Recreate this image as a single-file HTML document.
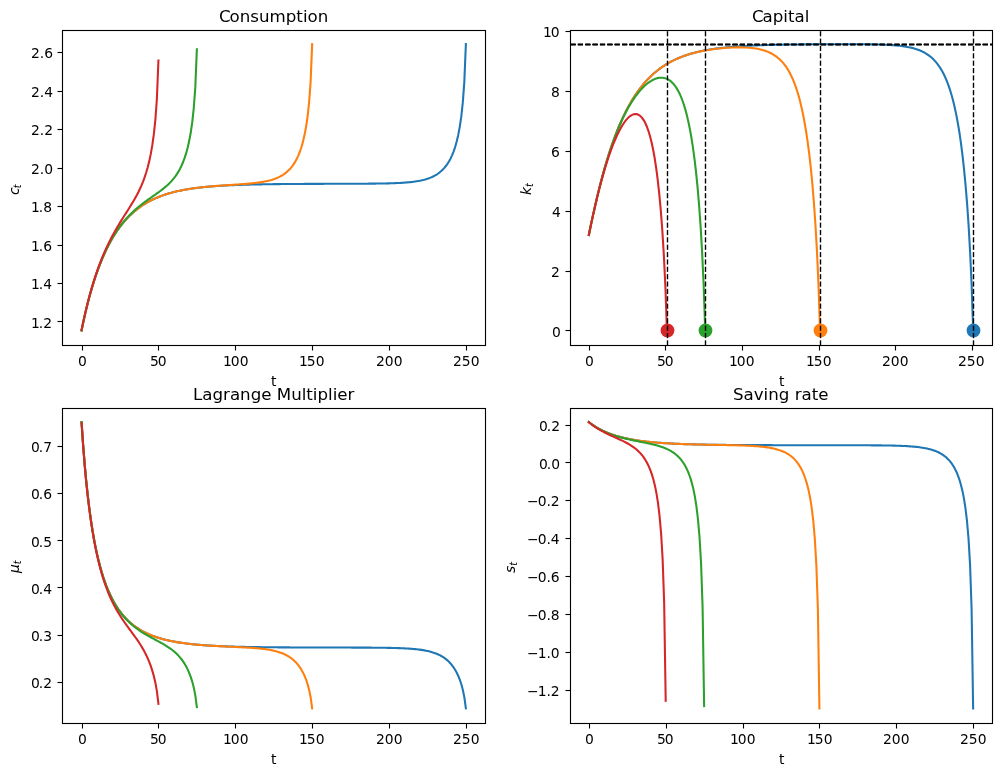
<!DOCTYPE html>
<html lang="en"><head><meta charset="utf-8"><title>Cass-Koopmans paths</title>
<style>html,body{margin:0;padding:0;background:#fff}svg{display:block}</style></head>
<body>
<svg width="1002" height="776" viewBox="0 0 1002 776">
<rect width="1002" height="776" fill="#fff"/>
<clipPath id="c0"><rect x="62.5" y="30.5" width="423.0" height="315.0"/></clipPath>
<g clip-path="url(#c0)" fill="none" stroke-linejoin="round">
<path d="M81.57 330.4 83.11 322.99 84.64 316 86.18 309.41 87.72 303.19 89.26 297.31 90.79 291.76 92.33 286.5 93.87 281.52 95.4 276.8 96.94 272.33 98.48 268.08 100.02 264.06 101.55 260.24 103.09 256.61 104.63 253.16 106.16 249.89 107.7 246.77 109.24 243.81 110.78 241 112.31 238.32 113.85 235.77 115.39 233.34 116.93 231.04 118.46 228.84 120 226.75 121.54 224.76 123.07 222.86 124.61 221.05 126.15 219.33 127.69 217.69 129.22 216.12 130.76 214.63 132.3 213.21 133.83 211.86 135.37 210.57 136.91 209.34 138.45 208.17 139.98 207.05 141.52 205.98 143.06 204.97 144.59 204 146.13 203.07 147.67 202.19 149.21 201.35 150.74 200.54 152.28 199.78 153.82 199.05 155.36 198.35 156.89 197.69 158.43 197.05 159.97 196.45 161.5 195.87 163.04 195.32 164.58 194.79 166.12 194.29 167.65 193.81 169.19 193.35 170.73 192.92 172.26 192.5 173.8 192.11 175.34 191.73 176.88 191.36 178.41 191.02 179.95 190.69 181.49 190.37 183.02 190.07 184.56 189.79 186.1 189.51 187.64 189.25 189.17 189 190.71 188.77 192.25 188.54 193.78 188.32 195.32 188.11 196.86 187.92 198.4 187.73 199.93 187.55 201.47 187.38 203.01 187.21 204.55 187.06 206.08 186.91 207.62 186.76 209.16 186.63 210.69 186.5 212.23 186.37 213.77 186.25 215.31 186.14 216.84 186.03 218.38 185.93 219.92 185.83 221.45 185.74 222.99 185.65 224.53 185.56 226.07 185.48 227.6 185.4 229.14 185.33 230.68 185.25 232.21 185.19 233.75 185.12 235.29 185.06 236.83 185 238.36 184.94 239.9 184.89 241.44 184.84 242.97 184.79 244.51 184.74 246.05 184.7 247.59 184.65 249.12 184.61 250.66 184.57 252.2 184.54 253.74 184.5 255.27 184.47 256.81 184.43 258.35 184.4 259.88 184.37 261.42 184.35 262.96 184.32 264.5 184.29 266.03 184.27 267.57 184.24 269.11 184.22 270.64 184.2 272.18 184.18 273.72 184.16 275.26 184.14 276.79 184.12 278.33 184.11 279.87 184.09 281.4 184.08 282.94 184.06 284.48 184.05 286.02 184.03 287.55 184.02 289.09 184.01 290.63 184 292.16 183.98 293.7 183.97 295.24 183.96 296.78 183.95 298.31 183.94 299.85 183.94 301.39 183.93 302.93 183.92 304.46 183.91 306 183.9 307.54 183.9 309.07 183.89 310.61 183.88 312.15 183.88 313.69 183.87 315.22 183.86 316.76 183.86 318.3 183.85 319.83 183.85 321.37 183.84 322.91 183.84 324.45 183.83 325.98 183.83 327.52 183.82 329.06 183.82 330.59 183.81 332.13 183.81 333.67 183.8 335.21 183.8 336.74 183.8 338.28 183.79 339.82 183.79 341.36 183.78 342.89 183.78 344.43 183.77 345.97 183.77 347.5 183.76 349.04 183.76 350.58 183.75 352.12 183.75 353.65 183.74 355.19 183.74 356.73 183.73 358.26 183.72 359.8 183.71 361.34 183.71 362.88 183.7 364.41 183.69 365.95 183.68 367.49 183.67 369.02 183.65 370.56 183.64 372.1 183.63 373.64 183.61 375.17 183.59 376.71 183.58 378.25 183.56 379.78 183.53 381.32 183.51 382.86 183.48 384.4 183.45 385.93 183.42 387.47 183.38 389.01 183.34 390.55 183.3 392.08 183.25 393.62 183.2 395.16 183.14 396.69 183.08 398.23 183 399.77 182.93 401.31 182.84 402.84 182.75 404.38 182.64 405.92 182.52 407.45 182.4 408.99 182.26 410.53 182.1 412.07 181.93 413.6 181.74 415.14 181.53 416.68 181.29 418.21 181.03 419.75 180.75 421.29 180.43 422.83 180.08 424.36 179.69 425.9 179.26 427.44 178.78 428.97 178.25 430.51 177.65 432.05 176.99 433.59 176.26 435.12 175.44 436.66 174.52 438.2 173.49 439.74 172.33 441.27 171.03 442.81 169.57 444.35 167.91 445.88 166.03 447.42 163.89 448.96 161.44 450.5 158.63 452.03 155.36 453.57 151.55 455.11 147.06 456.64 141.69 458.18 135.17 459.72 127.07 461.26 116.67 462.79 102.63 464.33 81.88 465.87 44.04" stroke="#1f77b4" stroke-width="2.08" stroke-linecap="square"/>
<path d="M81.57 330.4 83.11 322.99 84.64 316 86.18 309.41 87.72 303.19 89.26 297.31 90.79 291.76 92.33 286.5 93.87 281.52 95.4 276.8 96.94 272.33 98.48 268.08 100.02 264.06 101.55 260.24 103.09 256.61 104.63 253.16 106.16 249.89 107.7 246.77 109.24 243.81 110.78 241 112.31 238.32 113.85 235.77 115.39 233.34 116.93 231.04 118.46 228.84 120 226.75 121.54 224.75 123.07 222.86 124.61 221.05 126.15 219.33 127.69 217.69 129.22 216.12 130.76 214.63 132.3 213.21 133.83 211.86 135.37 210.57 136.91 209.34 138.45 208.17 139.98 207.05 141.52 205.98 143.06 204.96 144.59 203.99 146.13 203.07 147.67 202.19 149.21 201.35 150.74 200.54 152.28 199.78 153.82 199.05 155.36 198.35 156.89 197.68 158.43 197.05 159.97 196.44 161.5 195.87 163.04 195.31 164.58 194.79 166.12 194.29 167.65 193.81 169.19 193.35 170.73 192.91 172.26 192.5 173.8 192.1 175.34 191.72 176.88 191.35 178.41 191.01 179.95 190.68 181.49 190.36 183.02 190.06 184.56 189.77 186.1 189.5 187.64 189.23 189.17 188.98 190.71 188.74 192.25 188.51 193.78 188.29 195.32 188.08 196.86 187.88 198.4 187.69 199.93 187.5 201.47 187.33 203.01 187.16 204.55 187 206.08 186.84 207.62 186.69 209.16 186.55 210.69 186.41 212.23 186.28 213.77 186.15 215.31 186.02 216.84 185.9 218.38 185.79 219.92 185.67 221.45 185.56 222.99 185.46 224.53 185.35 226.07 185.25 227.6 185.15 229.14 185.04 230.68 184.94 232.21 184.84 233.75 184.74 235.29 184.64 236.83 184.54 238.36 184.44 239.9 184.33 241.44 184.22 242.97 184.11 244.51 183.99 246.05 183.87 247.59 183.74 249.12 183.61 250.66 183.46 252.2 183.31 253.74 183.15 255.27 182.97 256.81 182.78 258.35 182.58 259.88 182.36 261.42 182.12 262.96 181.86 264.5 181.58 266.03 181.27 267.57 180.93 269.11 180.56 270.64 180.15 272.18 179.7 273.72 179.2 275.26 178.65 276.79 178.04 278.33 177.36 279.87 176.61 281.4 175.77 282.94 174.84 284.48 173.79 286.02 172.63 287.55 171.31 289.09 169.84 290.63 168.17 292.16 166.28 293.7 164.13 295.24 161.67 296.78 158.85 298.31 155.58 299.85 151.76 301.39 147.26 302.93 141.88 304.46 135.35 306 127.24 307.54 116.84 309.07 102.79 310.61 82.04 312.15 44.18" stroke="#ff7f0e" stroke-width="2.08" stroke-linecap="square"/>
<path d="M81.57 330.38 83.11 322.96 84.64 315.97 86.18 309.38 87.72 303.15 89.26 297.27 90.79 291.71 92.33 286.45 93.87 281.46 95.4 276.74 96.94 272.26 98.48 268.01 100.02 263.98 101.55 260.15 103.09 256.51 104.63 253.05 106.16 249.76 107.7 246.63 109.24 243.66 110.78 240.82 112.31 238.12 113.85 235.55 115.39 233.1 116.93 230.77 118.46 228.54 120 226.41 121.54 224.38 123.07 222.44 124.61 220.59 126.15 218.81 127.69 217.11 129.22 215.48 130.76 213.92 132.3 212.42 133.83 210.98 135.37 209.59 136.91 208.25 138.45 206.96 139.98 205.71 141.52 204.5 143.06 203.31 144.59 202.16 146.13 201.04 147.67 199.93 149.21 198.84 150.74 197.76 152.28 196.69 153.82 195.62 155.36 194.55 156.89 193.46 158.43 192.36 159.97 191.23 161.5 190.08 163.04 188.88 164.58 187.63 166.12 186.32 167.65 184.94 169.19 183.47 170.73 181.89 172.26 180.2 173.8 178.35 175.34 176.34 176.88 174.11 178.41 171.65 179.95 168.89 181.49 165.78 183.02 162.25 184.56 158.18 186.1 153.44 187.64 147.84 189.17 141.1 190.71 132.8 192.25 122.22 193.78 108.02 195.32 87.13 196.86 49.21" stroke="#2ca02c" stroke-width="2.08" stroke-linecap="square"/>
<path d="M81.57 330.06 83.11 322.62 84.64 315.62 86.18 309 87.72 302.75 89.26 296.83 90.79 291.23 92.33 285.92 93.87 280.88 95.4 276.1 96.94 271.55 98.48 267.22 100.02 263.09 101.55 259.16 103.09 255.41 104.63 251.82 106.16 248.38 107.7 245.09 109.24 241.93 110.78 238.9 112.31 235.97 113.85 233.14 115.39 230.4 116.93 227.75 118.46 225.16 120 222.63 121.54 220.15 123.07 217.7 124.61 215.28 126.15 212.87 127.69 210.46 129.22 208.03 130.76 205.56 132.3 203.04 133.83 200.45 135.37 197.75 136.91 194.93 138.45 191.94 139.98 188.75 141.52 185.31 143.06 181.55 144.59 177.4 146.13 172.75 147.67 167.47 149.21 161.36 150.74 154.15 152.28 145.41 153.82 134.43 155.36 119.87 156.89 98.7 158.43 60.62" stroke="#d62728" stroke-width="2.08" stroke-linecap="square"/>
</g>
<rect x="62.5" y="30.5" width="423.0" height="315.0" fill="none" stroke="#000" stroke-width="1.111" stroke-linejoin="miter"/>
<g fill="#000"><rect x="81.944" y="345.5" width="1.111" height="5"/><rect x="157.944" y="345.5" width="1.111" height="5"/><rect x="234.944" y="345.5" width="1.111" height="5"/><rect x="311.944" y="345.5" width="1.111" height="5"/><rect x="388.944" y="345.5" width="1.111" height="5"/><rect x="465.944" y="345.5" width="1.111" height="5"/><rect x="57.5" y="320.944" width="5" height="1.111"/><rect x="57.5" y="282.944" width="5" height="1.111"/><rect x="57.5" y="244.944" width="5" height="1.111"/><rect x="57.5" y="205.944" width="5" height="1.111"/><rect x="57.5" y="167.944" width="5" height="1.111"/><rect x="57.5" y="128.944" width="5" height="1.111"/><rect x="57.5" y="90.944" width="5" height="1.111"/><rect x="57.5" y="51.944" width="5" height="1.111"/></g>
<clipPath id="c1"><rect x="570.5" y="30.5" width="422.0" height="315.0"/></clipPath>
<g clip-path="url(#c1)" fill="none" stroke-linejoin="round">
<circle cx="973.5" cy="330.5" r="6.211" fill="#1f77b4" stroke="#1f77b4" stroke-width="1.389"/>
<circle cx="820.5" cy="330.5" r="6.211" fill="#ff7f0e" stroke="#ff7f0e" stroke-width="1.389"/>
<circle cx="705.5" cy="330.5" r="6.211" fill="#2ca02c" stroke="#2ca02c" stroke-width="1.389"/>
<circle cx="667.5" cy="330.5" r="6.211" fill="#d62728" stroke="#d62728" stroke-width="1.389"/>
<path d="M588.84 234.95 590.37 227.5 591.9 220.24 593.44 213.2 594.97 206.37 596.5 199.77 598.03 193.38 599.56 187.21 601.09 181.25 602.62 175.51 604.15 169.99 605.68 164.67 607.22 159.55 608.75 154.63 610.28 149.9 611.81 145.36 613.34 141 614.87 136.82 616.4 132.8 617.93 128.95 619.46 125.26 620.99 121.72 622.53 118.33 624.06 115.08 625.59 111.97 627.12 108.99 628.65 106.13 630.18 103.4 631.71 100.78 633.24 98.28 634.77 95.88 636.31 93.59 637.84 91.39 639.37 89.29 640.9 87.29 642.43 85.37 643.96 83.53 645.49 81.77 647.02 80.09 648.55 78.49 650.09 76.95 651.62 75.48 653.15 74.08 654.68 72.74 656.21 71.46 657.74 70.23 659.27 69.06 660.8 67.94 662.33 66.87 663.86 65.85 665.4 64.87 666.93 63.94 668.46 63.04 669.99 62.19 671.52 61.38 673.05 60.6 674.58 59.86 676.11 59.15 677.64 58.47 679.18 57.82 680.71 57.2 682.24 56.61 683.77 56.04 685.3 55.5 686.83 54.99 688.36 54.49 689.89 54.02 691.42 53.58 692.96 53.15 694.49 52.74 696.02 52.34 697.55 51.97 699.08 51.61 700.61 51.27 702.14 50.95 703.67 50.64 705.2 50.34 706.73 50.05 708.27 49.78 709.8 49.52 711.33 49.28 712.86 49.04 714.39 48.82 715.92 48.6 717.45 48.39 718.98 48.2 720.51 48.01 722.05 47.83 723.58 47.66 725.11 47.5 726.64 47.34 728.17 47.19 729.7 47.05 731.23 46.91 732.76 46.79 734.29 46.66 735.82 46.54 737.36 46.43 738.89 46.32 740.42 46.22 741.95 46.12 743.48 46.03 745.01 45.94 746.54 45.85 748.07 45.77 749.6 45.69 751.14 45.62 752.67 45.55 754.2 45.48 755.73 45.41 757.26 45.35 758.79 45.29 760.32 45.24 761.85 45.18 763.38 45.13 764.92 45.08 766.45 45.03 767.98 44.99 769.51 44.95 771.04 44.91 772.57 44.87 774.1 44.83 775.63 44.79 777.16 44.76 778.69 44.73 780.23 44.7 781.76 44.67 783.29 44.64 784.82 44.61 786.35 44.59 787.88 44.56 789.41 44.54 790.94 44.52 792.47 44.5 794.01 44.48 795.54 44.46 797.07 44.44 798.6 44.42 800.13 44.4 801.66 44.39 803.19 44.37 804.72 44.36 806.25 44.34 807.79 44.33 809.32 44.32 810.85 44.31 812.38 44.3 813.91 44.29 815.44 44.28 816.97 44.27 818.5 44.26 820.03 44.25 821.56 44.24 823.1 44.23 824.63 44.23 826.16 44.22 827.69 44.21 829.22 44.21 830.75 44.2 832.28 44.2 833.81 44.2 835.34 44.19 836.88 44.19 838.41 44.19 839.94 44.19 841.47 44.19 843 44.19 844.53 44.19 846.06 44.19 847.59 44.19 849.12 44.19 850.65 44.2 852.19 44.2 853.72 44.21 855.25 44.21 856.78 44.22 858.31 44.23 859.84 44.24 861.37 44.25 862.9 44.26 864.43 44.28 865.97 44.29 867.5 44.31 869.03 44.33 870.56 44.36 872.09 44.38 873.62 44.41 875.15 44.44 876.68 44.48 878.21 44.52 879.75 44.56 881.28 44.61 882.81 44.67 884.34 44.73 885.87 44.79 887.4 44.87 888.93 44.95 890.46 45.04 891.99 45.14 893.52 45.25 895.06 45.37 896.59 45.5 898.12 45.65 899.65 45.81 901.18 45.99 902.71 46.18 904.24 46.4 905.77 46.64 907.3 46.91 908.84 47.2 910.37 47.52 911.9 47.88 913.43 48.27 914.96 48.71 916.49 49.19 918.02 49.72 919.55 50.3 921.08 50.95 922.61 51.66 924.15 52.45 925.68 53.32 927.21 54.28 928.74 55.35 930.27 56.52 931.8 57.83 933.33 59.27 934.86 60.86 936.39 62.62 937.93 64.58 939.46 66.75 940.99 69.16 942.52 71.83 944.05 74.79 945.58 78.09 947.11 81.76 948.64 85.86 950.17 90.43 951.71 95.53 953.24 101.25 954.77 107.66 956.3 114.87 957.83 123 959.36 132.2 960.89 142.64 962.42 154.57 963.95 168.27 965.48 184.12 967.02 202.67 968.55 224.66 970.08 251.32 971.61 284.82 973.14 330.38" stroke="#1f77b4" stroke-width="2.08" stroke-linecap="square"/>
<g fill="#000000" stroke="none"><rect x="570.5" y="43.806" width="5.139" height="1.389"/><rect x="577.861" y="43.806" width="5.139" height="1.389"/><rect x="585.222" y="43.806" width="5.139" height="1.389"/><rect x="592.583" y="43.806" width="5.139" height="1.389"/><rect x="599.944" y="43.806" width="5.139" height="1.389"/><rect x="607.306" y="43.806" width="5.139" height="1.389"/><rect x="614.667" y="43.806" width="5.139" height="1.389"/><rect x="622.028" y="43.806" width="5.139" height="1.389"/><rect x="629.389" y="43.806" width="5.139" height="1.389"/><rect x="636.75" y="43.806" width="5.139" height="1.389"/><rect x="644.111" y="43.806" width="5.139" height="1.389"/><rect x="651.472" y="43.806" width="5.139" height="1.389"/><rect x="658.833" y="43.806" width="5.139" height="1.389"/><rect x="666.194" y="43.806" width="5.139" height="1.389"/><rect x="673.556" y="43.806" width="5.139" height="1.389"/><rect x="680.917" y="43.806" width="5.139" height="1.389"/><rect x="688.278" y="43.806" width="5.139" height="1.389"/><rect x="695.639" y="43.806" width="5.139" height="1.389"/><rect x="703" y="43.806" width="5.139" height="1.389"/><rect x="710.361" y="43.806" width="5.139" height="1.389"/><rect x="717.722" y="43.806" width="5.139" height="1.389"/><rect x="725.083" y="43.806" width="5.139" height="1.389"/><rect x="732.444" y="43.806" width="5.139" height="1.389"/><rect x="739.806" y="43.806" width="5.139" height="1.389"/><rect x="747.167" y="43.806" width="5.139" height="1.389"/><rect x="754.528" y="43.806" width="5.139" height="1.389"/><rect x="761.889" y="43.806" width="5.139" height="1.389"/><rect x="769.25" y="43.806" width="5.139" height="1.389"/><rect x="776.611" y="43.806" width="5.139" height="1.389"/><rect x="783.972" y="43.806" width="5.139" height="1.389"/><rect x="791.333" y="43.806" width="5.139" height="1.389"/><rect x="798.694" y="43.806" width="5.139" height="1.389"/><rect x="806.056" y="43.806" width="5.139" height="1.389"/><rect x="813.417" y="43.806" width="5.139" height="1.389"/><rect x="820.778" y="43.806" width="5.139" height="1.389"/><rect x="828.139" y="43.806" width="5.139" height="1.389"/><rect x="835.5" y="43.806" width="5.139" height="1.389"/><rect x="842.861" y="43.806" width="5.139" height="1.389"/><rect x="850.222" y="43.806" width="5.139" height="1.389"/><rect x="857.583" y="43.806" width="5.139" height="1.389"/><rect x="864.944" y="43.806" width="5.139" height="1.389"/><rect x="872.306" y="43.806" width="5.139" height="1.389"/><rect x="879.667" y="43.806" width="5.139" height="1.389"/><rect x="887.028" y="43.806" width="5.139" height="1.389"/><rect x="894.389" y="43.806" width="5.139" height="1.389"/><rect x="901.75" y="43.806" width="5.139" height="1.389"/><rect x="909.111" y="43.806" width="5.139" height="1.389"/><rect x="916.472" y="43.806" width="5.139" height="1.389"/><rect x="923.833" y="43.806" width="5.139" height="1.389"/><rect x="931.194" y="43.806" width="5.139" height="1.389"/><rect x="938.556" y="43.806" width="5.139" height="1.389"/><rect x="945.917" y="43.806" width="5.139" height="1.389"/><rect x="953.278" y="43.806" width="5.139" height="1.389"/><rect x="960.639" y="43.806" width="5.139" height="1.389"/><rect x="968" y="43.806" width="5.139" height="1.389"/><rect x="975.361" y="43.806" width="5.139" height="1.389"/><rect x="982.722" y="43.806" width="5.139" height="1.389"/><rect x="990.083" y="43.806" width="2.417" height="1.389"/></g>
<g fill="#000000" stroke="none"><rect x="972.806" y="340.361" width="1.389" height="5.139"/><rect x="972.806" y="333" width="1.389" height="5.139"/><rect x="972.806" y="325.639" width="1.389" height="5.139"/><rect x="972.806" y="318.278" width="1.389" height="5.139"/><rect x="972.806" y="310.917" width="1.389" height="5.139"/><rect x="972.806" y="303.556" width="1.389" height="5.139"/><rect x="972.806" y="296.194" width="1.389" height="5.139"/><rect x="972.806" y="288.833" width="1.389" height="5.139"/><rect x="972.806" y="281.472" width="1.389" height="5.139"/><rect x="972.806" y="274.111" width="1.389" height="5.139"/><rect x="972.806" y="266.75" width="1.389" height="5.139"/><rect x="972.806" y="259.389" width="1.389" height="5.139"/><rect x="972.806" y="252.028" width="1.389" height="5.139"/><rect x="972.806" y="244.667" width="1.389" height="5.139"/><rect x="972.806" y="237.306" width="1.389" height="5.139"/><rect x="972.806" y="229.944" width="1.389" height="5.139"/><rect x="972.806" y="222.583" width="1.389" height="5.139"/><rect x="972.806" y="215.222" width="1.389" height="5.139"/><rect x="972.806" y="207.861" width="1.389" height="5.139"/><rect x="972.806" y="200.5" width="1.389" height="5.139"/><rect x="972.806" y="193.139" width="1.389" height="5.139"/><rect x="972.806" y="185.778" width="1.389" height="5.139"/><rect x="972.806" y="178.417" width="1.389" height="5.139"/><rect x="972.806" y="171.056" width="1.389" height="5.139"/><rect x="972.806" y="163.694" width="1.389" height="5.139"/><rect x="972.806" y="156.333" width="1.389" height="5.139"/><rect x="972.806" y="148.972" width="1.389" height="5.139"/><rect x="972.806" y="141.611" width="1.389" height="5.139"/><rect x="972.806" y="134.25" width="1.389" height="5.139"/><rect x="972.806" y="126.889" width="1.389" height="5.139"/><rect x="972.806" y="119.528" width="1.389" height="5.139"/><rect x="972.806" y="112.167" width="1.389" height="5.139"/><rect x="972.806" y="104.806" width="1.389" height="5.139"/><rect x="972.806" y="97.444" width="1.389" height="5.139"/><rect x="972.806" y="90.083" width="1.389" height="5.139"/><rect x="972.806" y="82.722" width="1.389" height="5.139"/><rect x="972.806" y="75.361" width="1.389" height="5.139"/><rect x="972.806" y="68" width="1.389" height="5.139"/><rect x="972.806" y="60.639" width="1.389" height="5.139"/><rect x="972.806" y="53.278" width="1.389" height="5.139"/><rect x="972.806" y="45.917" width="1.389" height="5.139"/><rect x="972.806" y="38.556" width="1.389" height="5.139"/><rect x="972.806" y="31.194" width="1.389" height="5.139"/></g>
<path d="M588.84 234.95 590.37 227.5 591.9 220.24 593.44 213.2 594.97 206.37 596.5 199.77 598.03 193.38 599.56 187.21 601.09 181.25 602.62 175.51 604.15 169.99 605.68 164.67 607.22 159.55 608.75 154.63 610.28 149.9 611.81 145.36 613.34 141 614.87 136.82 616.4 132.8 617.93 128.95 619.46 125.26 620.99 121.72 622.53 118.33 624.06 115.08 625.59 111.97 627.12 108.99 628.65 106.13 630.18 103.4 631.71 100.78 633.24 98.28 634.77 95.88 636.31 93.59 637.84 91.4 639.37 89.3 640.9 87.29 642.43 85.37 643.96 83.53 645.49 81.77 647.02 80.1 648.55 78.49 650.09 76.95 651.62 75.49 653.15 74.08 654.68 72.74 656.21 71.46 657.74 70.23 659.27 69.06 660.8 67.95 662.33 66.88 663.86 65.85 665.4 64.88 666.93 63.95 668.46 63.05 669.99 62.2 671.52 61.39 673.05 60.61 674.58 59.87 676.11 59.16 677.64 58.49 679.18 57.84 680.71 57.22 682.24 56.63 683.77 56.07 685.3 55.54 686.83 55.02 688.36 54.53 689.89 54.07 691.42 53.62 692.96 53.2 694.49 52.8 696.02 52.41 697.55 52.04 699.08 51.69 700.61 51.36 702.14 51.05 703.67 50.74 705.2 50.46 706.73 50.19 708.27 49.93 709.8 49.69 711.33 49.46 712.86 49.24 714.39 49.03 715.92 48.84 717.45 48.66 718.98 48.49 720.51 48.34 722.05 48.19 723.58 48.06 725.11 47.93 726.64 47.82 728.17 47.72 729.7 47.64 731.23 47.56 732.76 47.5 734.29 47.45 735.82 47.41 737.36 47.39 738.89 47.38 740.42 47.39 741.95 47.41 743.48 47.45 745.01 47.51 746.54 47.58 748.07 47.68 749.6 47.8 751.14 47.94 752.67 48.11 754.2 48.31 755.73 48.53 757.26 48.79 758.79 49.09 760.32 49.43 761.85 49.81 763.38 50.23 764.92 50.71 766.45 51.25 767.98 51.85 769.51 52.52 771.04 53.26 772.57 54.09 774.1 55.02 775.63 56.04 777.16 57.18 778.69 58.45 780.23 59.86 781.76 61.42 783.29 63.15 784.82 65.08 786.35 67.22 787.88 69.6 789.41 72.24 790.94 75.18 792.47 78.46 794.01 82.11 795.54 86.18 797.07 90.72 798.6 95.81 800.13 101.5 801.66 107.89 803.19 115.08 804.72 123.19 806.25 132.37 807.79 142.8 809.32 154.71 810.85 168.39 812.38 184.23 813.91 202.75 815.44 224.73 816.97 251.37 818.5 284.85 820.03 330.4" stroke="#ff7f0e" stroke-width="2.08" stroke-linecap="square"/>
<g fill="#000000" stroke="none"><rect x="570.5" y="43.806" width="5.139" height="1.389"/><rect x="577.861" y="43.806" width="5.139" height="1.389"/><rect x="585.222" y="43.806" width="5.139" height="1.389"/><rect x="592.583" y="43.806" width="5.139" height="1.389"/><rect x="599.944" y="43.806" width="5.139" height="1.389"/><rect x="607.306" y="43.806" width="5.139" height="1.389"/><rect x="614.667" y="43.806" width="5.139" height="1.389"/><rect x="622.028" y="43.806" width="5.139" height="1.389"/><rect x="629.389" y="43.806" width="5.139" height="1.389"/><rect x="636.75" y="43.806" width="5.139" height="1.389"/><rect x="644.111" y="43.806" width="5.139" height="1.389"/><rect x="651.472" y="43.806" width="5.139" height="1.389"/><rect x="658.833" y="43.806" width="5.139" height="1.389"/><rect x="666.194" y="43.806" width="5.139" height="1.389"/><rect x="673.556" y="43.806" width="5.139" height="1.389"/><rect x="680.917" y="43.806" width="5.139" height="1.389"/><rect x="688.278" y="43.806" width="5.139" height="1.389"/><rect x="695.639" y="43.806" width="5.139" height="1.389"/><rect x="703" y="43.806" width="5.139" height="1.389"/><rect x="710.361" y="43.806" width="5.139" height="1.389"/><rect x="717.722" y="43.806" width="5.139" height="1.389"/><rect x="725.083" y="43.806" width="5.139" height="1.389"/><rect x="732.444" y="43.806" width="5.139" height="1.389"/><rect x="739.806" y="43.806" width="5.139" height="1.389"/><rect x="747.167" y="43.806" width="5.139" height="1.389"/><rect x="754.528" y="43.806" width="5.139" height="1.389"/><rect x="761.889" y="43.806" width="5.139" height="1.389"/><rect x="769.25" y="43.806" width="5.139" height="1.389"/><rect x="776.611" y="43.806" width="5.139" height="1.389"/><rect x="783.972" y="43.806" width="5.139" height="1.389"/><rect x="791.333" y="43.806" width="5.139" height="1.389"/><rect x="798.694" y="43.806" width="5.139" height="1.389"/><rect x="806.056" y="43.806" width="5.139" height="1.389"/><rect x="813.417" y="43.806" width="5.139" height="1.389"/><rect x="820.778" y="43.806" width="5.139" height="1.389"/><rect x="828.139" y="43.806" width="5.139" height="1.389"/><rect x="835.5" y="43.806" width="5.139" height="1.389"/><rect x="842.861" y="43.806" width="5.139" height="1.389"/><rect x="850.222" y="43.806" width="5.139" height="1.389"/><rect x="857.583" y="43.806" width="5.139" height="1.389"/><rect x="864.944" y="43.806" width="5.139" height="1.389"/><rect x="872.306" y="43.806" width="5.139" height="1.389"/><rect x="879.667" y="43.806" width="5.139" height="1.389"/><rect x="887.028" y="43.806" width="5.139" height="1.389"/><rect x="894.389" y="43.806" width="5.139" height="1.389"/><rect x="901.75" y="43.806" width="5.139" height="1.389"/><rect x="909.111" y="43.806" width="5.139" height="1.389"/><rect x="916.472" y="43.806" width="5.139" height="1.389"/><rect x="923.833" y="43.806" width="5.139" height="1.389"/><rect x="931.194" y="43.806" width="5.139" height="1.389"/><rect x="938.556" y="43.806" width="5.139" height="1.389"/><rect x="945.917" y="43.806" width="5.139" height="1.389"/><rect x="953.278" y="43.806" width="5.139" height="1.389"/><rect x="960.639" y="43.806" width="5.139" height="1.389"/><rect x="968" y="43.806" width="5.139" height="1.389"/><rect x="975.361" y="43.806" width="5.139" height="1.389"/><rect x="982.722" y="43.806" width="5.139" height="1.389"/><rect x="990.083" y="43.806" width="2.417" height="1.389"/></g>
<g fill="#000000" stroke="none"><rect x="819.806" y="340.361" width="1.389" height="5.139"/><rect x="819.806" y="333" width="1.389" height="5.139"/><rect x="819.806" y="325.639" width="1.389" height="5.139"/><rect x="819.806" y="318.278" width="1.389" height="5.139"/><rect x="819.806" y="310.917" width="1.389" height="5.139"/><rect x="819.806" y="303.556" width="1.389" height="5.139"/><rect x="819.806" y="296.194" width="1.389" height="5.139"/><rect x="819.806" y="288.833" width="1.389" height="5.139"/><rect x="819.806" y="281.472" width="1.389" height="5.139"/><rect x="819.806" y="274.111" width="1.389" height="5.139"/><rect x="819.806" y="266.75" width="1.389" height="5.139"/><rect x="819.806" y="259.389" width="1.389" height="5.139"/><rect x="819.806" y="252.028" width="1.389" height="5.139"/><rect x="819.806" y="244.667" width="1.389" height="5.139"/><rect x="819.806" y="237.306" width="1.389" height="5.139"/><rect x="819.806" y="229.944" width="1.389" height="5.139"/><rect x="819.806" y="222.583" width="1.389" height="5.139"/><rect x="819.806" y="215.222" width="1.389" height="5.139"/><rect x="819.806" y="207.861" width="1.389" height="5.139"/><rect x="819.806" y="200.5" width="1.389" height="5.139"/><rect x="819.806" y="193.139" width="1.389" height="5.139"/><rect x="819.806" y="185.778" width="1.389" height="5.139"/><rect x="819.806" y="178.417" width="1.389" height="5.139"/><rect x="819.806" y="171.056" width="1.389" height="5.139"/><rect x="819.806" y="163.694" width="1.389" height="5.139"/><rect x="819.806" y="156.333" width="1.389" height="5.139"/><rect x="819.806" y="148.972" width="1.389" height="5.139"/><rect x="819.806" y="141.611" width="1.389" height="5.139"/><rect x="819.806" y="134.25" width="1.389" height="5.139"/><rect x="819.806" y="126.889" width="1.389" height="5.139"/><rect x="819.806" y="119.528" width="1.389" height="5.139"/><rect x="819.806" y="112.167" width="1.389" height="5.139"/><rect x="819.806" y="104.806" width="1.389" height="5.139"/><rect x="819.806" y="97.444" width="1.389" height="5.139"/><rect x="819.806" y="90.083" width="1.389" height="5.139"/><rect x="819.806" y="82.722" width="1.389" height="5.139"/><rect x="819.806" y="75.361" width="1.389" height="5.139"/><rect x="819.806" y="68" width="1.389" height="5.139"/><rect x="819.806" y="60.639" width="1.389" height="5.139"/><rect x="819.806" y="53.278" width="1.389" height="5.139"/><rect x="819.806" y="45.917" width="1.389" height="5.139"/><rect x="819.806" y="38.556" width="1.389" height="5.139"/><rect x="819.806" y="31.194" width="1.389" height="5.139"/></g>
<path d="M588.84 234.95 590.37 227.5 591.9 220.25 593.44 213.22 594.97 206.4 596.5 199.8 598.03 193.42 599.56 187.26 601.09 181.32 602.62 175.59 604.15 170.08 605.68 164.78 607.22 159.68 608.75 154.79 610.28 150.09 611.81 145.58 613.34 141.25 614.87 137.1 616.4 133.13 617.93 129.33 619.46 125.69 620.99 122.21 622.53 118.89 624.06 115.72 625.59 112.69 627.12 109.8 628.65 107.06 630.18 104.44 631.71 101.96 633.24 99.6 634.77 97.37 636.31 95.26 637.84 93.27 639.37 91.39 640.9 89.64 642.43 88 643.96 86.47 645.49 85.06 647.02 83.77 648.55 82.59 650.09 81.53 651.62 80.59 653.15 79.78 654.68 79.09 656.21 78.53 657.74 78.11 659.27 77.83 660.8 77.7 662.33 77.72 663.86 77.92 665.4 78.3 666.93 78.87 668.46 79.65 669.99 80.66 671.52 81.91 673.05 83.43 674.58 85.25 676.11 87.39 677.64 89.89 679.18 92.79 680.71 96.13 682.24 99.97 683.77 104.36 685.3 109.38 686.83 115.12 688.36 121.67 689.89 129.16 691.42 137.73 692.96 147.55 694.49 158.87 696.02 171.96 697.55 187.22 699.08 205.16 700.61 226.56 702.14 252.61 703.67 285.49 705.2 330.4" stroke="#2ca02c" stroke-width="2.08" stroke-linecap="square"/>
<g fill="#000000" stroke="none"><rect x="570.5" y="43.806" width="5.139" height="1.389"/><rect x="577.861" y="43.806" width="5.139" height="1.389"/><rect x="585.222" y="43.806" width="5.139" height="1.389"/><rect x="592.583" y="43.806" width="5.139" height="1.389"/><rect x="599.944" y="43.806" width="5.139" height="1.389"/><rect x="607.306" y="43.806" width="5.139" height="1.389"/><rect x="614.667" y="43.806" width="5.139" height="1.389"/><rect x="622.028" y="43.806" width="5.139" height="1.389"/><rect x="629.389" y="43.806" width="5.139" height="1.389"/><rect x="636.75" y="43.806" width="5.139" height="1.389"/><rect x="644.111" y="43.806" width="5.139" height="1.389"/><rect x="651.472" y="43.806" width="5.139" height="1.389"/><rect x="658.833" y="43.806" width="5.139" height="1.389"/><rect x="666.194" y="43.806" width="5.139" height="1.389"/><rect x="673.556" y="43.806" width="5.139" height="1.389"/><rect x="680.917" y="43.806" width="5.139" height="1.389"/><rect x="688.278" y="43.806" width="5.139" height="1.389"/><rect x="695.639" y="43.806" width="5.139" height="1.389"/><rect x="703" y="43.806" width="5.139" height="1.389"/><rect x="710.361" y="43.806" width="5.139" height="1.389"/><rect x="717.722" y="43.806" width="5.139" height="1.389"/><rect x="725.083" y="43.806" width="5.139" height="1.389"/><rect x="732.444" y="43.806" width="5.139" height="1.389"/><rect x="739.806" y="43.806" width="5.139" height="1.389"/><rect x="747.167" y="43.806" width="5.139" height="1.389"/><rect x="754.528" y="43.806" width="5.139" height="1.389"/><rect x="761.889" y="43.806" width="5.139" height="1.389"/><rect x="769.25" y="43.806" width="5.139" height="1.389"/><rect x="776.611" y="43.806" width="5.139" height="1.389"/><rect x="783.972" y="43.806" width="5.139" height="1.389"/><rect x="791.333" y="43.806" width="5.139" height="1.389"/><rect x="798.694" y="43.806" width="5.139" height="1.389"/><rect x="806.056" y="43.806" width="5.139" height="1.389"/><rect x="813.417" y="43.806" width="5.139" height="1.389"/><rect x="820.778" y="43.806" width="5.139" height="1.389"/><rect x="828.139" y="43.806" width="5.139" height="1.389"/><rect x="835.5" y="43.806" width="5.139" height="1.389"/><rect x="842.861" y="43.806" width="5.139" height="1.389"/><rect x="850.222" y="43.806" width="5.139" height="1.389"/><rect x="857.583" y="43.806" width="5.139" height="1.389"/><rect x="864.944" y="43.806" width="5.139" height="1.389"/><rect x="872.306" y="43.806" width="5.139" height="1.389"/><rect x="879.667" y="43.806" width="5.139" height="1.389"/><rect x="887.028" y="43.806" width="5.139" height="1.389"/><rect x="894.389" y="43.806" width="5.139" height="1.389"/><rect x="901.75" y="43.806" width="5.139" height="1.389"/><rect x="909.111" y="43.806" width="5.139" height="1.389"/><rect x="916.472" y="43.806" width="5.139" height="1.389"/><rect x="923.833" y="43.806" width="5.139" height="1.389"/><rect x="931.194" y="43.806" width="5.139" height="1.389"/><rect x="938.556" y="43.806" width="5.139" height="1.389"/><rect x="945.917" y="43.806" width="5.139" height="1.389"/><rect x="953.278" y="43.806" width="5.139" height="1.389"/><rect x="960.639" y="43.806" width="5.139" height="1.389"/><rect x="968" y="43.806" width="5.139" height="1.389"/><rect x="975.361" y="43.806" width="5.139" height="1.389"/><rect x="982.722" y="43.806" width="5.139" height="1.389"/><rect x="990.083" y="43.806" width="2.417" height="1.389"/></g>
<g fill="#000000" stroke="none"><rect x="704.806" y="340.361" width="1.389" height="5.139"/><rect x="704.806" y="333" width="1.389" height="5.139"/><rect x="704.806" y="325.639" width="1.389" height="5.139"/><rect x="704.806" y="318.278" width="1.389" height="5.139"/><rect x="704.806" y="310.917" width="1.389" height="5.139"/><rect x="704.806" y="303.556" width="1.389" height="5.139"/><rect x="704.806" y="296.194" width="1.389" height="5.139"/><rect x="704.806" y="288.833" width="1.389" height="5.139"/><rect x="704.806" y="281.472" width="1.389" height="5.139"/><rect x="704.806" y="274.111" width="1.389" height="5.139"/><rect x="704.806" y="266.75" width="1.389" height="5.139"/><rect x="704.806" y="259.389" width="1.389" height="5.139"/><rect x="704.806" y="252.028" width="1.389" height="5.139"/><rect x="704.806" y="244.667" width="1.389" height="5.139"/><rect x="704.806" y="237.306" width="1.389" height="5.139"/><rect x="704.806" y="229.944" width="1.389" height="5.139"/><rect x="704.806" y="222.583" width="1.389" height="5.139"/><rect x="704.806" y="215.222" width="1.389" height="5.139"/><rect x="704.806" y="207.861" width="1.389" height="5.139"/><rect x="704.806" y="200.5" width="1.389" height="5.139"/><rect x="704.806" y="193.139" width="1.389" height="5.139"/><rect x="704.806" y="185.778" width="1.389" height="5.139"/><rect x="704.806" y="178.417" width="1.389" height="5.139"/><rect x="704.806" y="171.056" width="1.389" height="5.139"/><rect x="704.806" y="163.694" width="1.389" height="5.139"/><rect x="704.806" y="156.333" width="1.389" height="5.139"/><rect x="704.806" y="148.972" width="1.389" height="5.139"/><rect x="704.806" y="141.611" width="1.389" height="5.139"/><rect x="704.806" y="134.25" width="1.389" height="5.139"/><rect x="704.806" y="126.889" width="1.389" height="5.139"/><rect x="704.806" y="119.528" width="1.389" height="5.139"/><rect x="704.806" y="112.167" width="1.389" height="5.139"/><rect x="704.806" y="104.806" width="1.389" height="5.139"/><rect x="704.806" y="97.444" width="1.389" height="5.139"/><rect x="704.806" y="90.083" width="1.389" height="5.139"/><rect x="704.806" y="82.722" width="1.389" height="5.139"/><rect x="704.806" y="75.361" width="1.389" height="5.139"/><rect x="704.806" y="68" width="1.389" height="5.139"/><rect x="704.806" y="60.639" width="1.389" height="5.139"/><rect x="704.806" y="53.278" width="1.389" height="5.139"/><rect x="704.806" y="45.917" width="1.389" height="5.139"/><rect x="704.806" y="38.556" width="1.389" height="5.139"/><rect x="704.806" y="31.194" width="1.389" height="5.139"/></g>
<path d="M588.84 234.95 590.37 227.55 591.9 220.36 593.44 213.39 594.97 206.65 596.5 200.14 598.03 193.86 599.56 187.82 601.09 182.02 602.62 176.45 604.15 171.11 605.68 166.01 607.22 161.15 608.75 156.51 610.28 152.1 611.81 147.92 613.34 143.97 614.87 140.24 616.4 136.75 617.93 133.48 619.46 130.44 620.99 127.64 622.53 125.08 624.06 122.75 625.59 120.68 627.12 118.87 628.65 117.32 630.18 116.06 631.71 115.08 633.24 114.42 634.77 114.09 636.31 114.11 637.84 114.5 639.37 115.31 640.9 116.57 642.43 118.31 643.96 120.6 645.49 123.48 647.02 127.02 648.55 131.31 650.09 136.45 651.62 142.55 653.15 149.75 654.68 158.24 656.21 168.23 657.74 180.01 659.27 193.95 660.8 210.59 662.33 230.68 663.86 255.41 665.4 286.92 666.93 330.4" stroke="#d62728" stroke-width="2.08" stroke-linecap="square"/>
<g fill="#000000" stroke="none"><rect x="570.5" y="43.806" width="5.139" height="1.389"/><rect x="577.861" y="43.806" width="5.139" height="1.389"/><rect x="585.222" y="43.806" width="5.139" height="1.389"/><rect x="592.583" y="43.806" width="5.139" height="1.389"/><rect x="599.944" y="43.806" width="5.139" height="1.389"/><rect x="607.306" y="43.806" width="5.139" height="1.389"/><rect x="614.667" y="43.806" width="5.139" height="1.389"/><rect x="622.028" y="43.806" width="5.139" height="1.389"/><rect x="629.389" y="43.806" width="5.139" height="1.389"/><rect x="636.75" y="43.806" width="5.139" height="1.389"/><rect x="644.111" y="43.806" width="5.139" height="1.389"/><rect x="651.472" y="43.806" width="5.139" height="1.389"/><rect x="658.833" y="43.806" width="5.139" height="1.389"/><rect x="666.194" y="43.806" width="5.139" height="1.389"/><rect x="673.556" y="43.806" width="5.139" height="1.389"/><rect x="680.917" y="43.806" width="5.139" height="1.389"/><rect x="688.278" y="43.806" width="5.139" height="1.389"/><rect x="695.639" y="43.806" width="5.139" height="1.389"/><rect x="703" y="43.806" width="5.139" height="1.389"/><rect x="710.361" y="43.806" width="5.139" height="1.389"/><rect x="717.722" y="43.806" width="5.139" height="1.389"/><rect x="725.083" y="43.806" width="5.139" height="1.389"/><rect x="732.444" y="43.806" width="5.139" height="1.389"/><rect x="739.806" y="43.806" width="5.139" height="1.389"/><rect x="747.167" y="43.806" width="5.139" height="1.389"/><rect x="754.528" y="43.806" width="5.139" height="1.389"/><rect x="761.889" y="43.806" width="5.139" height="1.389"/><rect x="769.25" y="43.806" width="5.139" height="1.389"/><rect x="776.611" y="43.806" width="5.139" height="1.389"/><rect x="783.972" y="43.806" width="5.139" height="1.389"/><rect x="791.333" y="43.806" width="5.139" height="1.389"/><rect x="798.694" y="43.806" width="5.139" height="1.389"/><rect x="806.056" y="43.806" width="5.139" height="1.389"/><rect x="813.417" y="43.806" width="5.139" height="1.389"/><rect x="820.778" y="43.806" width="5.139" height="1.389"/><rect x="828.139" y="43.806" width="5.139" height="1.389"/><rect x="835.5" y="43.806" width="5.139" height="1.389"/><rect x="842.861" y="43.806" width="5.139" height="1.389"/><rect x="850.222" y="43.806" width="5.139" height="1.389"/><rect x="857.583" y="43.806" width="5.139" height="1.389"/><rect x="864.944" y="43.806" width="5.139" height="1.389"/><rect x="872.306" y="43.806" width="5.139" height="1.389"/><rect x="879.667" y="43.806" width="5.139" height="1.389"/><rect x="887.028" y="43.806" width="5.139" height="1.389"/><rect x="894.389" y="43.806" width="5.139" height="1.389"/><rect x="901.75" y="43.806" width="5.139" height="1.389"/><rect x="909.111" y="43.806" width="5.139" height="1.389"/><rect x="916.472" y="43.806" width="5.139" height="1.389"/><rect x="923.833" y="43.806" width="5.139" height="1.389"/><rect x="931.194" y="43.806" width="5.139" height="1.389"/><rect x="938.556" y="43.806" width="5.139" height="1.389"/><rect x="945.917" y="43.806" width="5.139" height="1.389"/><rect x="953.278" y="43.806" width="5.139" height="1.389"/><rect x="960.639" y="43.806" width="5.139" height="1.389"/><rect x="968" y="43.806" width="5.139" height="1.389"/><rect x="975.361" y="43.806" width="5.139" height="1.389"/><rect x="982.722" y="43.806" width="5.139" height="1.389"/><rect x="990.083" y="43.806" width="2.417" height="1.389"/></g>
<g fill="#000000" stroke="none"><rect x="666.806" y="340.361" width="1.389" height="5.139"/><rect x="666.806" y="333" width="1.389" height="5.139"/><rect x="666.806" y="325.639" width="1.389" height="5.139"/><rect x="666.806" y="318.278" width="1.389" height="5.139"/><rect x="666.806" y="310.917" width="1.389" height="5.139"/><rect x="666.806" y="303.556" width="1.389" height="5.139"/><rect x="666.806" y="296.194" width="1.389" height="5.139"/><rect x="666.806" y="288.833" width="1.389" height="5.139"/><rect x="666.806" y="281.472" width="1.389" height="5.139"/><rect x="666.806" y="274.111" width="1.389" height="5.139"/><rect x="666.806" y="266.75" width="1.389" height="5.139"/><rect x="666.806" y="259.389" width="1.389" height="5.139"/><rect x="666.806" y="252.028" width="1.389" height="5.139"/><rect x="666.806" y="244.667" width="1.389" height="5.139"/><rect x="666.806" y="237.306" width="1.389" height="5.139"/><rect x="666.806" y="229.944" width="1.389" height="5.139"/><rect x="666.806" y="222.583" width="1.389" height="5.139"/><rect x="666.806" y="215.222" width="1.389" height="5.139"/><rect x="666.806" y="207.861" width="1.389" height="5.139"/><rect x="666.806" y="200.5" width="1.389" height="5.139"/><rect x="666.806" y="193.139" width="1.389" height="5.139"/><rect x="666.806" y="185.778" width="1.389" height="5.139"/><rect x="666.806" y="178.417" width="1.389" height="5.139"/><rect x="666.806" y="171.056" width="1.389" height="5.139"/><rect x="666.806" y="163.694" width="1.389" height="5.139"/><rect x="666.806" y="156.333" width="1.389" height="5.139"/><rect x="666.806" y="148.972" width="1.389" height="5.139"/><rect x="666.806" y="141.611" width="1.389" height="5.139"/><rect x="666.806" y="134.25" width="1.389" height="5.139"/><rect x="666.806" y="126.889" width="1.389" height="5.139"/><rect x="666.806" y="119.528" width="1.389" height="5.139"/><rect x="666.806" y="112.167" width="1.389" height="5.139"/><rect x="666.806" y="104.806" width="1.389" height="5.139"/><rect x="666.806" y="97.444" width="1.389" height="5.139"/><rect x="666.806" y="90.083" width="1.389" height="5.139"/><rect x="666.806" y="82.722" width="1.389" height="5.139"/><rect x="666.806" y="75.361" width="1.389" height="5.139"/><rect x="666.806" y="68" width="1.389" height="5.139"/><rect x="666.806" y="60.639" width="1.389" height="5.139"/><rect x="666.806" y="53.278" width="1.389" height="5.139"/><rect x="666.806" y="45.917" width="1.389" height="5.139"/><rect x="666.806" y="38.556" width="1.389" height="5.139"/><rect x="666.806" y="31.194" width="1.389" height="5.139"/></g>
</g>
<rect x="570.5" y="30.5" width="422.0" height="315.0" fill="none" stroke="#000" stroke-width="1.111" stroke-linejoin="miter"/>
<g fill="#000"><rect x="588.944" y="345.5" width="1.111" height="5"/><rect x="664.944" y="345.5" width="1.111" height="5"/><rect x="741.944" y="345.5" width="1.111" height="5"/><rect x="818.944" y="345.5" width="1.111" height="5"/><rect x="894.944" y="345.5" width="1.111" height="5"/><rect x="971.944" y="345.5" width="1.111" height="5"/><rect x="565.5" y="329.944" width="5" height="1.111"/><rect x="565.5" y="270.944" width="5" height="1.111"/><rect x="565.5" y="210.944" width="5" height="1.111"/><rect x="565.5" y="150.944" width="5" height="1.111"/><rect x="565.5" y="90.944" width="5" height="1.111"/><rect x="565.5" y="30.944" width="5" height="1.111"/></g>
<clipPath id="c2"><rect x="62.5" y="408.5" width="423.0" height="315.0"/></clipPath>
<g clip-path="url(#c2)" fill="none" stroke-linejoin="round">
<path d="M81.57 422.04 83.11 444.56 84.64 463.86 86.18 480.56 87.72 495.12 89.26 507.91 90.79 519.22 92.33 529.27 93.87 538.26 95.4 546.32 96.94 553.6 98.48 560.18 100.02 566.17 101.55 571.62 103.09 576.6 104.63 581.16 106.16 585.36 107.7 589.22 109.24 592.79 110.78 596.08 112.31 599.13 113.85 601.97 115.39 604.6 116.93 607.05 118.46 609.34 120 611.47 121.54 613.47 123.07 615.33 124.61 617.08 126.15 618.71 127.69 620.25 129.22 621.7 130.76 623.05 132.3 624.33 133.83 625.53 135.37 626.67 136.91 627.73 138.45 628.74 139.98 629.69 141.52 630.59 143.06 631.44 144.59 632.24 146.13 633 147.67 633.72 149.21 634.4 150.74 635.05 152.28 635.66 153.82 636.24 155.36 636.79 156.89 637.31 158.43 637.8 159.97 638.27 161.5 638.72 163.04 639.14 164.58 639.54 166.12 639.92 167.65 640.29 169.19 640.63 170.73 640.96 172.26 641.27 173.8 641.57 175.34 641.85 176.88 642.12 178.41 642.37 179.95 642.62 181.49 642.85 183.02 643.07 184.56 643.28 186.1 643.48 187.64 643.67 189.17 643.85 190.71 644.02 192.25 644.19 193.78 644.34 195.32 644.49 196.86 644.64 198.4 644.77 199.93 644.9 201.47 645.03 203.01 645.14 204.55 645.25 206.08 645.36 207.62 645.46 209.16 645.56 210.69 645.65 212.23 645.74 213.77 645.83 215.31 645.91 216.84 645.98 218.38 646.06 219.92 646.13 221.45 646.19 222.99 646.26 224.53 646.32 226.07 646.38 227.6 646.43 229.14 646.48 230.68 646.53 232.21 646.58 233.75 646.63 235.29 646.67 236.83 646.71 238.36 646.75 239.9 646.79 241.44 646.83 242.97 646.86 244.51 646.89 246.05 646.93 247.59 646.96 249.12 646.98 250.66 647.01 252.2 647.04 253.74 647.06 255.27 647.09 256.81 647.11 258.35 647.13 259.88 647.15 261.42 647.17 262.96 647.19 264.5 647.21 266.03 647.23 267.57 647.24 269.11 647.26 270.64 647.27 272.18 647.29 273.72 647.3 275.26 647.31 276.79 647.33 278.33 647.34 279.87 647.35 281.4 647.36 282.94 647.37 284.48 647.38 286.02 647.39 287.55 647.4 289.09 647.41 290.63 647.42 292.16 647.42 293.7 647.43 295.24 647.44 296.78 647.44 298.31 647.45 299.85 647.46 301.39 647.46 302.93 647.47 304.46 647.47 306 647.48 307.54 647.49 309.07 647.49 310.61 647.49 312.15 647.5 313.69 647.5 315.22 647.51 316.76 647.51 318.3 647.52 319.83 647.52 321.37 647.52 322.91 647.53 324.45 647.53 325.98 647.53 327.52 647.54 329.06 647.54 330.59 647.54 332.13 647.55 333.67 647.55 335.21 647.55 336.74 647.55 338.28 647.56 339.82 647.56 341.36 647.56 342.89 647.57 344.43 647.57 345.97 647.57 347.5 647.58 349.04 647.58 350.58 647.58 352.12 647.59 353.65 647.59 355.19 647.6 356.73 647.6 358.26 647.61 359.8 647.61 361.34 647.62 362.88 647.62 364.41 647.63 365.95 647.64 367.49 647.64 369.02 647.65 370.56 647.66 372.1 647.67 373.64 647.68 375.17 647.69 376.71 647.71 378.25 647.72 379.78 647.74 381.32 647.75 382.86 647.77 384.4 647.79 385.93 647.82 387.47 647.84 389.01 647.87 390.55 647.9 392.08 647.93 393.62 647.97 395.16 648.01 396.69 648.05 398.23 648.1 399.77 648.16 401.31 648.22 402.84 648.28 404.38 648.36 405.92 648.44 407.45 648.52 408.99 648.62 410.53 648.73 412.07 648.85 413.6 648.98 415.14 649.12 416.68 649.28 418.21 649.46 419.75 649.65 421.29 649.87 422.83 650.1 424.36 650.37 425.9 650.66 427.44 650.98 428.97 651.33 430.51 651.73 432.05 652.16 433.59 652.65 435.12 653.18 436.66 653.78 438.2 654.44 439.74 655.18 441.27 656 442.81 656.91 444.35 657.94 445.88 659.08 447.42 660.36 448.96 661.81 450.5 663.43 452.03 665.27 453.57 667.37 455.11 669.76 456.64 672.51 458.18 675.72 459.72 679.5 461.26 684.04 462.79 689.69 464.33 697.12 465.87 708.4" stroke="#1f77b4" stroke-width="2.08" stroke-linecap="square"/>
<path d="M81.57 422.04 83.11 444.56 84.64 463.86 86.18 480.56 87.72 495.12 89.26 507.91 90.79 519.22 92.33 529.27 93.87 538.26 95.4 546.32 96.94 553.6 98.48 560.18 100.02 566.17 101.55 571.62 103.09 576.6 104.63 581.16 106.16 585.36 107.7 589.22 109.24 592.79 110.78 596.08 112.31 599.13 113.85 601.97 115.39 604.6 116.93 607.05 118.46 609.34 120 611.47 121.54 613.47 123.07 615.33 124.61 617.08 126.15 618.72 127.69 620.25 129.22 621.7 130.76 623.05 132.3 624.33 133.83 625.53 135.37 626.67 136.91 627.73 138.45 628.74 139.98 629.69 141.52 630.59 143.06 631.44 144.59 632.24 146.13 633 147.67 633.72 149.21 634.4 150.74 635.05 152.28 635.66 153.82 636.24 155.36 636.79 156.89 637.31 158.43 637.8 159.97 638.27 161.5 638.72 163.04 639.14 164.58 639.54 166.12 639.93 167.65 640.29 169.19 640.64 170.73 640.96 172.26 641.28 173.8 641.57 175.34 641.86 176.88 642.13 178.41 642.38 179.95 642.63 181.49 642.86 183.02 643.08 184.56 643.29 186.1 643.49 187.64 643.68 189.17 643.87 190.71 644.04 192.25 644.21 193.78 644.37 195.32 644.52 196.86 644.66 198.4 644.8 199.93 644.93 201.47 645.06 203.01 645.18 204.55 645.3 206.08 645.41 207.62 645.51 209.16 645.62 210.69 645.72 212.23 645.81 213.77 645.9 215.31 645.99 216.84 646.07 218.38 646.16 219.92 646.24 221.45 646.31 222.99 646.39 224.53 646.46 226.07 646.54 227.6 646.61 229.14 646.68 230.68 646.75 232.21 646.82 233.75 646.89 235.29 646.96 236.83 647.03 238.36 647.11 239.9 647.18 241.44 647.26 242.97 647.34 244.51 647.42 246.05 647.5 247.59 647.59 249.12 647.69 250.66 647.79 252.2 647.89 253.74 648.01 255.27 648.13 256.81 648.26 258.35 648.4 259.88 648.55 261.42 648.71 262.96 648.89 264.5 649.08 266.03 649.3 267.57 649.53 269.11 649.78 270.64 650.06 272.18 650.36 273.72 650.7 275.26 651.07 276.79 651.47 278.33 651.92 279.87 652.42 281.4 652.96 282.94 653.57 284.48 654.24 286.02 654.99 287.55 655.82 289.09 656.75 290.63 657.78 292.16 658.93 293.7 660.22 295.24 661.67 296.78 663.31 298.31 665.16 299.85 667.26 301.39 669.66 302.93 672.42 304.46 675.63 306 679.42 307.54 683.97 309.07 689.62 310.61 697.07 312.15 708.37" stroke="#ff7f0e" stroke-width="2.08" stroke-linecap="square"/>
<path d="M81.57 422.13 83.11 444.65 84.64 463.95 86.18 480.64 87.72 495.2 89.26 507.99 90.79 519.3 92.33 529.36 93.87 538.35 95.4 546.42 96.94 553.7 98.48 560.29 100.02 566.28 101.55 571.74 103.09 576.73 104.63 581.31 106.16 585.51 107.7 589.39 109.24 592.97 110.78 596.28 112.31 599.35 113.85 602.21 115.39 604.86 116.93 607.34 118.46 609.65 120 611.81 121.54 613.83 123.07 615.74 124.61 617.52 126.15 619.2 127.69 620.79 129.22 622.28 130.76 623.69 132.3 625.03 133.83 626.31 135.37 627.51 136.91 628.67 138.45 629.77 139.98 630.82 141.52 631.83 143.06 632.8 144.59 633.74 146.13 634.65 147.67 635.54 149.21 636.4 150.74 637.25 152.28 638.08 153.82 638.91 155.36 639.73 156.89 640.55 158.43 641.38 159.97 642.22 161.5 643.07 163.04 643.94 164.58 644.84 166.12 645.78 167.65 646.76 169.19 647.78 170.73 648.87 172.26 650.03 173.8 651.26 175.34 652.6 176.88 654.04 178.41 655.61 179.95 657.33 181.49 659.23 183.02 661.34 184.56 663.69 186.1 666.34 187.64 669.35 189.17 672.81 190.71 676.85 192.25 681.66 193.78 687.58 195.32 695.33 196.86 707.01" stroke="#2ca02c" stroke-width="2.08" stroke-linecap="square"/>
<path d="M81.57 423.14 83.11 445.6 84.64 464.87 86.18 481.55 87.72 496.11 89.26 508.91 90.79 520.25 92.33 530.33 93.87 539.37 95.4 547.49 96.94 554.83 98.48 561.49 100.02 567.56 101.55 573.11 103.09 578.21 104.63 582.9 106.16 587.23 107.7 591.25 109.24 594.99 110.78 598.48 112.31 601.75 113.85 604.82 115.39 607.72 116.93 610.46 118.46 613.07 120 615.55 121.54 617.94 123.07 620.24 124.61 622.47 126.15 624.64 127.69 626.76 129.22 628.86 130.76 630.95 132.3 633.03 133.83 635.13 135.37 637.26 136.91 639.44 138.45 641.69 139.98 644.03 141.52 646.49 143.06 649.1 144.59 651.89 146.13 654.91 147.67 658.21 149.21 661.86 150.74 665.95 152.28 670.62 153.82 676.07 155.36 682.68 156.89 691.17 158.43 703.78" stroke="#d62728" stroke-width="2.08" stroke-linecap="square"/>
</g>
<rect x="62.5" y="408.5" width="423.0" height="315.0" fill="none" stroke="#000" stroke-width="1.111" stroke-linejoin="miter"/>
<g fill="#000"><rect x="81.944" y="723.5" width="1.111" height="5"/><rect x="157.944" y="723.5" width="1.111" height="5"/><rect x="234.944" y="723.5" width="1.111" height="5"/><rect x="311.944" y="723.5" width="1.111" height="5"/><rect x="388.944" y="723.5" width="1.111" height="5"/><rect x="465.944" y="723.5" width="1.111" height="5"/><rect x="57.5" y="681.944" width="5" height="1.111"/><rect x="57.5" y="634.944" width="5" height="1.111"/><rect x="57.5" y="586.944" width="5" height="1.111"/><rect x="57.5" y="539.944" width="5" height="1.111"/><rect x="57.5" y="492.944" width="5" height="1.111"/><rect x="57.5" y="445.944" width="5" height="1.111"/></g>
<clipPath id="c3"><rect x="570.5" y="408.5" width="422.0" height="315.0"/></clipPath>
<g clip-path="url(#c3)" fill="none" stroke-linejoin="round">
<path d="M588.84 422.04 590.38 423.25 591.92 424.38 593.45 425.45 594.99 426.46 596.53 427.41 598.07 428.31 599.6 429.16 601.14 429.96 602.68 430.72 604.21 431.43 605.75 432.11 607.29 432.75 608.83 433.36 610.36 433.94 611.9 434.48 613.44 435 614.97 435.49 616.51 435.96 618.05 436.4 619.59 436.82 621.12 437.22 622.66 437.6 624.2 437.96 625.74 438.31 627.27 438.63 628.81 438.94 630.35 439.24 631.88 439.52 633.42 439.79 634.96 440.04 636.5 440.28 638.03 440.51 639.57 440.73 641.11 440.94 642.64 441.14 644.18 441.33 645.72 441.51 647.26 441.68 648.79 441.85 650.33 442 651.87 442.15 653.4 442.3 654.94 442.43 656.48 442.56 658.02 442.68 659.55 442.8 661.09 442.91 662.63 443.02 664.16 443.12 665.7 443.22 667.24 443.31 668.78 443.4 670.31 443.48 671.85 443.56 673.39 443.64 674.93 443.71 676.46 443.78 678 443.85 679.54 443.91 681.07 443.97 682.61 444.03 684.15 444.09 685.69 444.14 687.22 444.19 688.76 444.24 690.3 444.28 691.83 444.33 693.37 444.37 694.91 444.41 696.45 444.45 697.98 444.48 699.52 444.52 701.06 444.55 702.59 444.58 704.13 444.61 705.67 444.64 707.21 444.67 708.74 444.69 710.28 444.72 711.82 444.74 713.35 444.77 714.89 444.79 716.43 444.81 717.97 444.83 719.5 444.85 721.04 444.86 722.58 444.88 724.12 444.9 725.65 444.91 727.19 444.93 728.73 444.94 730.26 444.96 731.8 444.97 733.34 444.98 734.88 444.99 736.41 445.01 737.95 445.02 739.49 445.03 741.02 445.04 742.56 445.05 744.1 445.05 745.64 445.06 747.17 445.07 748.71 445.08 750.25 445.09 751.78 445.09 753.32 445.1 754.86 445.11 756.4 445.11 757.93 445.12 759.47 445.12 761.01 445.13 762.55 445.14 764.08 445.14 765.62 445.15 767.16 445.15 768.69 445.15 770.23 445.16 771.77 445.16 773.31 445.17 774.84 445.17 776.38 445.17 777.92 445.18 779.45 445.18 780.99 445.18 782.53 445.19 784.07 445.19 785.6 445.19 787.14 445.19 788.68 445.2 790.21 445.2 791.75 445.2 793.29 445.2 794.83 445.2 796.36 445.21 797.9 445.21 799.44 445.21 800.97 445.21 802.51 445.21 804.05 445.21 805.59 445.22 807.12 445.22 808.66 445.22 810.2 445.22 811.74 445.22 813.27 445.22 814.81 445.22 816.35 445.23 817.88 445.23 819.42 445.23 820.96 445.23 822.5 445.23 824.03 445.23 825.57 445.23 827.11 445.23 828.64 445.24 830.18 445.24 831.72 445.24 833.26 445.24 834.79 445.24 836.33 445.24 837.87 445.24 839.4 445.25 840.94 445.25 842.48 445.25 844.02 445.25 845.55 445.25 847.09 445.26 848.63 445.26 850.16 445.26 851.7 445.26 853.24 445.27 854.78 445.27 856.31 445.27 857.85 445.28 859.39 445.28 860.93 445.29 862.46 445.29 864 445.3 865.54 445.3 867.07 445.31 868.61 445.32 870.15 445.33 871.69 445.34 873.22 445.35 874.76 445.36 876.3 445.37 877.83 445.38 879.37 445.4 880.91 445.41 882.45 445.43 883.98 445.45 885.52 445.47 887.06 445.5 888.59 445.52 890.13 445.55 891.67 445.58 893.21 445.62 894.74 445.66 896.28 445.7 897.82 445.74 899.36 445.8 900.89 445.85 902.43 445.92 903.97 445.99 905.5 446.06 907.04 446.15 908.58 446.24 910.12 446.35 911.65 446.46 913.19 446.59 914.73 446.73 916.26 446.88 917.8 447.05 919.34 447.24 920.88 447.45 922.41 447.68 923.95 447.94 925.49 448.23 927.02 448.54 928.56 448.89 930.1 449.28 931.64 449.72 933.17 450.2 934.71 450.74 936.25 451.34 937.78 452.01 939.32 452.76 940.86 453.6 942.4 454.54 943.93 455.6 945.47 456.79 947.01 458.15 948.55 459.68 950.08 461.42 951.62 463.42 953.16 465.71 954.69 468.36 956.23 471.44 957.77 475.05 959.31 479.32 960.84 484.44 962.38 490.66 963.92 498.37 965.45 508.15 966.99 520.99 968.53 538.67 970.07 564.86 971.6 609.03 973.14 708.4" stroke="#1f77b4" stroke-width="2.08" stroke-linecap="square"/>
<path d="M588.84 422.04 590.38 423.25 591.92 424.38 593.45 425.45 594.99 426.46 596.53 427.41 598.07 428.31 599.6 429.16 601.14 429.96 602.68 430.72 604.21 431.43 605.75 432.11 607.29 432.75 608.83 433.36 610.36 433.94 611.9 434.48 613.44 435 614.97 435.49 616.51 435.96 618.05 436.4 619.59 436.82 621.12 437.22 622.66 437.6 624.2 437.96 625.74 438.31 627.27 438.63 628.81 438.94 630.35 439.24 631.88 439.52 633.42 439.79 634.96 440.04 636.5 440.28 638.03 440.51 639.57 440.73 641.11 440.94 642.64 441.14 644.18 441.33 645.72 441.51 647.26 441.69 648.79 441.85 650.33 442.01 651.87 442.15 653.4 442.3 654.94 442.43 656.48 442.56 658.02 442.69 659.55 442.8 661.09 442.92 662.63 443.02 664.16 443.12 665.7 443.22 667.24 443.31 668.78 443.4 670.31 443.49 671.85 443.57 673.39 443.65 674.93 443.72 676.46 443.79 678 443.86 679.54 443.92 681.07 443.98 682.61 444.04 684.15 444.1 685.69 444.15 687.22 444.2 688.76 444.25 690.3 444.3 691.83 444.34 693.37 444.39 694.91 444.43 696.45 444.47 697.98 444.51 699.52 444.55 701.06 444.58 702.59 444.62 704.13 444.65 705.67 444.68 707.21 444.71 708.74 444.75 710.28 444.78 711.82 444.81 713.35 444.84 714.89 444.86 716.43 444.89 717.97 444.92 719.5 444.95 721.04 444.98 722.58 445.01 724.12 445.04 725.65 445.07 727.19 445.1 728.73 445.13 730.26 445.16 731.8 445.2 733.34 445.23 734.88 445.27 736.41 445.31 737.95 445.35 739.49 445.4 741.02 445.45 742.56 445.5 744.1 445.55 745.64 445.61 747.17 445.68 748.71 445.75 750.25 445.83 751.78 445.91 753.32 446 754.86 446.1 756.4 446.21 757.93 446.33 759.47 446.46 761.01 446.61 762.55 446.77 764.08 446.94 765.62 447.14 767.16 447.35 768.69 447.59 770.23 447.85 771.77 448.14 773.31 448.46 774.84 448.81 776.38 449.21 777.92 449.64 779.45 450.13 780.99 450.67 782.53 451.27 784.07 451.94 785.6 452.69 787.14 453.54 788.68 454.48 790.21 455.54 791.75 456.74 793.29 458.09 794.83 459.63 796.36 461.37 797.9 463.37 799.44 465.66 800.97 468.31 802.51 471.39 804.05 475 805.59 479.27 807.12 484.39 808.66 490.62 810.2 498.32 811.74 508.11 813.27 520.95 814.81 538.62 816.35 564.82 817.88 608.99 819.42 708.39" stroke="#ff7f0e" stroke-width="2.08" stroke-linecap="square"/>
<path d="M588.84 422.06 590.38 423.27 591.92 424.41 593.45 425.48 594.99 426.49 596.53 427.45 598.07 428.35 599.6 429.21 601.14 430.01 602.68 430.78 604.21 431.5 605.75 432.19 607.29 432.84 608.83 433.46 610.36 434.05 611.9 434.61 613.44 435.14 614.97 435.65 616.51 436.13 618.05 436.59 619.59 437.04 621.12 437.46 622.66 437.87 624.2 438.26 625.74 438.64 627.27 439.01 628.81 439.36 630.35 439.7 631.88 440.03 633.42 440.36 634.96 440.68 636.5 440.99 638.03 441.3 639.57 441.61 641.11 441.92 642.64 442.22 644.18 442.53 645.72 442.85 647.26 443.17 648.79 443.49 650.33 443.83 651.87 444.18 653.4 444.55 654.94 444.93 656.48 445.34 658.02 445.77 659.55 446.23 661.09 446.72 662.63 447.25 664.16 447.82 665.7 448.44 667.24 449.12 668.78 449.87 670.31 450.69 671.85 451.59 673.39 452.6 674.93 453.71 676.46 454.96 678 456.36 679.54 457.94 681.07 459.73 682.61 461.76 684.15 464.08 685.69 466.76 687.22 469.86 688.76 473.49 690.3 477.77 691.83 482.9 693.37 489.12 694.91 496.82 696.45 506.58 697.98 519.38 699.52 536.99 701.06 563.09 702.59 607.08 704.13 706.08" stroke="#2ca02c" stroke-width="2.08" stroke-linecap="square"/>
<path d="M588.84 422.27 590.38 423.51 591.92 424.68 593.45 425.79 594.99 426.85 596.53 427.85 598.07 428.81 599.6 429.72 601.14 430.59 602.68 431.43 604.21 432.24 605.75 433.03 607.29 433.78 608.83 434.52 610.36 435.24 611.9 435.95 613.44 436.65 614.97 437.35 616.51 438.04 618.05 438.74 619.59 439.45 621.12 440.16 622.66 440.9 624.2 441.66 625.74 442.45 627.27 443.27 628.81 444.14 630.35 445.06 631.88 446.05 633.42 447.11 634.96 448.26 636.5 449.51 638.03 450.88 639.57 452.39 641.11 454.07 642.64 455.95 644.18 458.07 645.72 460.46 647.26 463.2 648.79 466.36 650.33 470.03 651.87 474.34 653.4 479.48 654.94 485.7 656.48 493.38 658.02 503.09 659.55 515.81 661.09 533.29 662.63 559.15 664.16 602.74 665.7 700.83" stroke="#d62728" stroke-width="2.08" stroke-linecap="square"/>
</g>
<rect x="570.5" y="408.5" width="422.0" height="315.0" fill="none" stroke="#000" stroke-width="1.111" stroke-linejoin="miter"/>
<g fill="#000"><rect x="588.944" y="723.5" width="1.111" height="5"/><rect x="665.944" y="723.5" width="1.111" height="5"/><rect x="742.944" y="723.5" width="1.111" height="5"/><rect x="818.944" y="723.5" width="1.111" height="5"/><rect x="895.944" y="723.5" width="1.111" height="5"/><rect x="972.944" y="723.5" width="1.111" height="5"/><rect x="565.5" y="689.944" width="5" height="1.111"/><rect x="565.5" y="651.944" width="5" height="1.111"/><rect x="565.5" y="613.944" width="5" height="1.111"/><rect x="565.5" y="575.944" width="5" height="1.111"/><rect x="565.5" y="537.944" width="5" height="1.111"/><rect x="565.5" y="499.944" width="5" height="1.111"/><rect x="565.5" y="461.944" width="5" height="1.111"/><rect x="565.5" y="424.944" width="5" height="1.111"/></g>
<g font-family="DejaVu Sans, Liberation Sans, sans-serif" fill="#000">
<text x="78" y="366" font-size="13.889">0</text>
<text x="150 157.828" y="366" font-size="13.889">50</text>
<text x="223 230.828" y="366" font-size="13.889">100</text>
<text x="299 306.828" y="366" font-size="13.889">150</text>
<text x="376 384.828" y="366" font-size="13.889">200</text>
<text x="453 461.828" y="366" font-size="13.889">250</text>
<text x="271" y="386" font-size="13.889">t</text>
<text x="31 38.828" y="328" font-size="13.889">1.2</text>
<text x="31 38.828" y="289" font-size="13.889">1.4</text>
<text x="31 38.828" y="251" font-size="13.889">1.6</text>
<text x="31 38.828" y="212" font-size="13.889">1.8</text>
<text x="31 39.828" y="174" font-size="13.889">2.0</text>
<text x="31 39.828" y="135" font-size="13.889">2.2</text>
<text x="31 39.828" y="97" font-size="13.889">2.4</text>
<text x="31 39.828" y="58" font-size="13.889">2.6</text>
<text transform="translate(19 195) rotate(-90)" font-size="13.889"><tspan font-style="italic">c</tspan><tspan font-style="italic" font-size="9.72" dx="-1" dy="2.22">t</tspan></text>
<text x="219 229.608" y="22" font-size="16.667">Consumption</text>
<text x="585" y="366" font-size="13.889">0</text>
<text x="657 664.828" y="366" font-size="13.889">50</text>
<text x="729 736.828" y="366" font-size="13.889">100</text>
<text x="806 813.828" y="366" font-size="13.889">150</text>
<text x="882 890.828" y="366" font-size="13.889">200</text>
<text x="958 966.828" y="366" font-size="13.889">250</text>
<text x="779" y="386" font-size="13.889">t</text>
<text x="552" y="337" font-size="13.889">0</text>
<text x="551" y="277" font-size="13.889">2</text>
<text x="552" y="217" font-size="13.889">4</text>
<text x="551" y="157" font-size="13.889">6</text>
<text x="551" y="97" font-size="13.889">8</text>
<text x="543 550.828" y="37" font-size="13.889">10</text>
<text transform="translate(531 195) rotate(-90)" font-size="13.889"><tspan font-style="italic">k</tspan><tspan font-style="italic" font-size="9.72" dx="0" dy="2.22">t</tspan></text>
<text x="752 762.608" y="22" font-size="16.667">Capital</text>
<text x="78" y="744" font-size="13.889">0</text>
<text x="150 157.828" y="744" font-size="13.889">50</text>
<text x="223 230.828" y="744" font-size="13.889">100</text>
<text x="299 306.828" y="744" font-size="13.889">150</text>
<text x="376 384.828" y="744" font-size="13.889">200</text>
<text x="453 461.828" y="744" font-size="13.889">250</text>
<text x="271" y="764" font-size="13.889">t</text>
<text x="31 38.828" y="688" font-size="13.889">0.2</text>
<text x="31 38.828" y="641" font-size="13.889">0.3</text>
<text x="31 38.828" y="594" font-size="13.889">0.4</text>
<text x="31 38.828" y="547" font-size="13.889">0.5</text>
<text x="31 38.828" y="499" font-size="13.889">0.6</text>
<text x="31 38.828" y="452" font-size="13.889">0.7</text>
<text transform="translate(19 573) rotate(-90)" font-size="13.889"><tspan font-style="italic">μ</tspan><tspan font-style="italic" font-size="9.72" dx="0" dy="2.22">t</tspan></text>
<text x="193 202.262" y="400" font-size="16.667">Lagrange Multiplier</text>
<text x="585" y="744" font-size="13.889">0</text>
<text x="657 664.828" y="744" font-size="13.889">50</text>
<text x="730 737.828" y="744" font-size="13.889">100</text>
<text x="807 814.828" y="744" font-size="13.889">150</text>
<text x="883 891.828" y="744" font-size="13.889">200</text>
<text x="960 968.828" y="744" font-size="13.889">250</text>
<text x="779" y="764" font-size="13.889">t</text>
<text x="527 537.626" y="696" font-size="13.889">−1.2</text>
<text x="527 537.626" y="658" font-size="13.889">−1.0</text>
<text x="527 537.626" y="620" font-size="13.889">−0.8</text>
<text x="527 537.626" y="582" font-size="13.889">−0.6</text>
<text x="527 537.626" y="544" font-size="13.889">−0.4</text>
<text x="527 537.626" y="506" font-size="13.889">−0.2</text>
<text x="539 546.828" y="469" font-size="13.889">0.0</text>
<text x="539 546.828" y="431" font-size="13.889">0.2</text>
<text transform="translate(515 573) rotate(-90)" font-size="13.889"><tspan font-style="italic">s</tspan><tspan font-style="italic" font-size="9.72" dx="0" dy="2.22">t</tspan></text>
<text x="733 743.553" y="400" font-size="16.667">Saving rate</text>
</g>
</svg>
</body></html>
